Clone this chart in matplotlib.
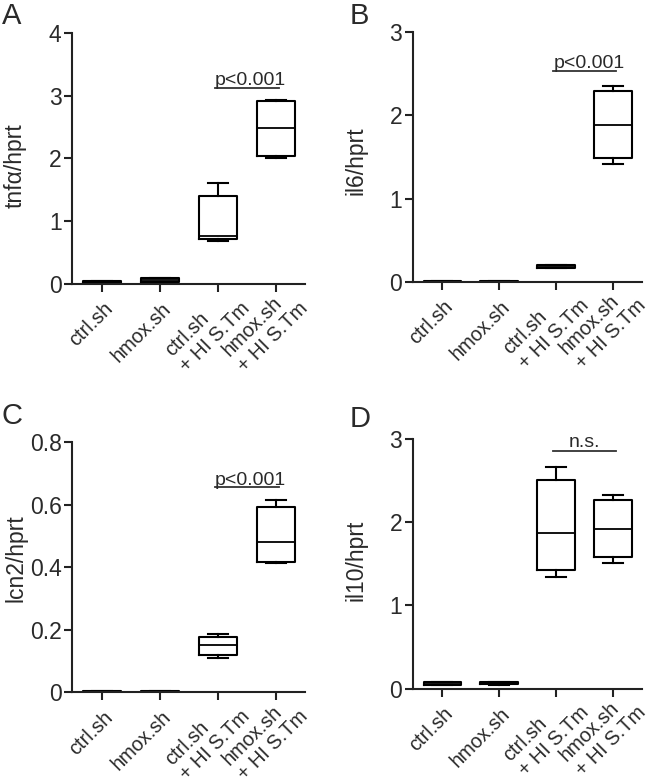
import matplotlib
matplotlib.use("Agg")
import matplotlib.pyplot as plt

plt.rcParams['font.family'] = ['Liberation Sans', 'DejaVu Sans']

categories = ["ctrl.sh", "hmox.sh", "ctrl.sh\n+ HI S.Tm", "hmox.sh\n+ HI S.Tm"]

# per panel: whisker low, q1, median, q3, whisker high for each of 4 groups
tnfa_lo  = [0.01, 0.02, 0.69, 2.00]
tnfa_q1  = [0.015, 0.03, 0.71, 2.04]
tnfa_med = [0.03, 0.06, 0.77, 2.49]
tnfa_q3  = [0.045, 0.09, 1.40, 2.91]
tnfa_hi  = [0.05, 0.10, 1.61, 2.93]

il6_lo  = [0.001, 0.001, 0.16, 1.42]
il6_q1  = [0.002, 0.002, 0.165, 1.49]
il6_med = [0.003, 0.003, 0.18, 1.89]
il6_q3  = [0.004, 0.004, 0.195, 2.29]
il6_hi  = [0.005, 0.005, 0.20, 2.36]

lcn2_lo  = [0.001, 0.001, 0.111, 0.415]
lcn2_q1  = [0.0015, 0.0015, 0.120, 0.418]
lcn2_med = [0.002, 0.002, 0.152, 0.480]
lcn2_q3  = [0.0025, 0.0025, 0.177, 0.594]
lcn2_hi  = [0.003, 0.003, 0.186, 0.615]

il10_lo  = [0.04, 0.05, 1.34, 1.51]
il10_q1  = [0.045, 0.055, 1.43, 1.58]
il10_med = [0.06, 0.07, 1.875, 1.92]
il10_q3  = [0.075, 0.08, 2.51, 2.27]
il10_hi  = [0.08, 0.085, 2.66, 2.33]

panels = [
    dict(letter="A", ylabel="tnfα/hprt", ylim=4, yticks=[0, 1, 2, 3, 4], ytl=["0", "1", "2", "3", "4"],
         stats=(tnfa_lo, tnfa_q1, tnfa_med, tnfa_q3, tnfa_hi), sig="p<0.001", sigy=3.13,
         rect=[0.1108, 0.6378, 0.3582, 0.3202], lpos=(0.003, 0.997), ylc=(-0.193, 0.47)),
    dict(letter="B", ylabel="il6/hprt", ylim=3, yticks=[0, 1, 2, 3], ytl=["0", "1", "2", "3"],
         stats=(il6_lo, il6_q1, il6_med, il6_q3, il6_hi), sig="p<0.001", sigy=2.54,
         rect=[0.635, 0.6407, 0.352, 0.3181], lpos=(0.538, 0.997), ylc=(-0.199, 0.484)),
    dict(letter="C", ylabel="lcn2/hprt", ylim=0.8, yticks=[0, 0.2, 0.4, 0.6, 0.8], ytl=["0", "0.2", "0.4", "0.6", "0.8"],
         stats=(lcn2_lo, lcn2_q1, lcn2_med, lcn2_q3, lcn2_hi), sig="p<0.001", sigy=0.656,
         rect=[0.1108, 0.117, 0.3582, 0.3188], lpos=(0.003, 0.487), ylc=(-0.193, 0.537)),
    dict(letter="D", ylabel="il10/hprt", ylim=3, yticks=[0, 1, 2, 3], ytl=["0", "1", "2", "3"],
         stats=(il10_lo, il10_q1, il10_med, il10_q3, il10_hi), sig="n.s.", sigy=2.86,
         rect=[0.635, 0.1216, 0.352, 0.3184], lpos=(0.538, 0.484), ylc=(-0.199, 0.515)),
]

fig = plt.figure(figsize=(6.5, 7.84), dpi=100)
tc = "#2a2a2a"

for p in panels:
    ax = fig.add_axes(p["rect"])
    lo, q1, med, q3, hi = p["stats"]
    bstats = []
    for i in range(4):
        bstats.append(dict(whislo=lo[i], q1=q1[i], med=med[i], q3=q3[i], whishi=hi[i], fliers=[]))
    lp = dict(color="black", linewidth=1.5)
    ax.bxp(bstats, positions=[1, 2, 3, 4], widths=0.66, showfliers=False,
           boxprops=lp, whiskerprops=lp, capprops=lp, medianprops=dict(color="black", linewidth=1.3),
           capwidths=0.35, manage_ticks=False)
    ax.set_xlim(0.48, 4.5)
    ax.set_ylim(0, p["ylim"])
    ax.set_yticks(p["yticks"])
    ax.set_yticklabels(p["ytl"], fontsize=16.5, color=tc)
    ax.set_xticks([1, 2, 3, 4])
    ax.set_xticklabels([])
    for i, lab in enumerate(categories):
        if "\n" in lab:
            off = (7, 1)
        else:
            off = (1, -15)
        ax.annotate(lab, xy=(i + 1, 0), xycoords=("data", "axes fraction"),
                    xytext=off, textcoords="offset pixels", rotation=45,
                    ha="right", va="top", rotation_mode="anchor", multialignment="left",
                    linespacing=1.2, fontsize=14.3, color=tc, annotation_clip=False)
    ax.spines["top"].set_visible(False)
    ax.spines["right"].set_visible(False)
    for s in ("left", "bottom"):
        ax.spines[s].set_linewidth(1.5)
        ax.spines[s].set_color("#222222")
    ax.tick_params(axis="both", direction="out", length=6, width=1.5, color="#222222")
    ax.tick_params(axis="y", pad=1.5)
    ax.set_ylabel(p["ylabel"], fontsize=16.5, color=tc)
    ax.yaxis.set_label_coords(*p["ylc"])
    # significance bar
    ax.plot([2.95, 4.05], [p["sigy"], p["sigy"]], color="#333333", linewidth=1.3, clip_on=False)
    if p["sig"] == "n.s.":
        ax.text(3.5, p["sigy"], p["sig"], ha="center", va="bottom", fontsize=14, color=tc)
    else:
        ax.text(2.95, p["sigy"] - 0.005 * p["ylim"], p["sig"], ha="left", va="bottom", fontsize=14, color=tc)
    fig.text(p["lpos"][0], p["lpos"][1], p["letter"], fontsize=21, color=tc, ha="left", va="top")

fig.savefig("out.png", dpi=100)
